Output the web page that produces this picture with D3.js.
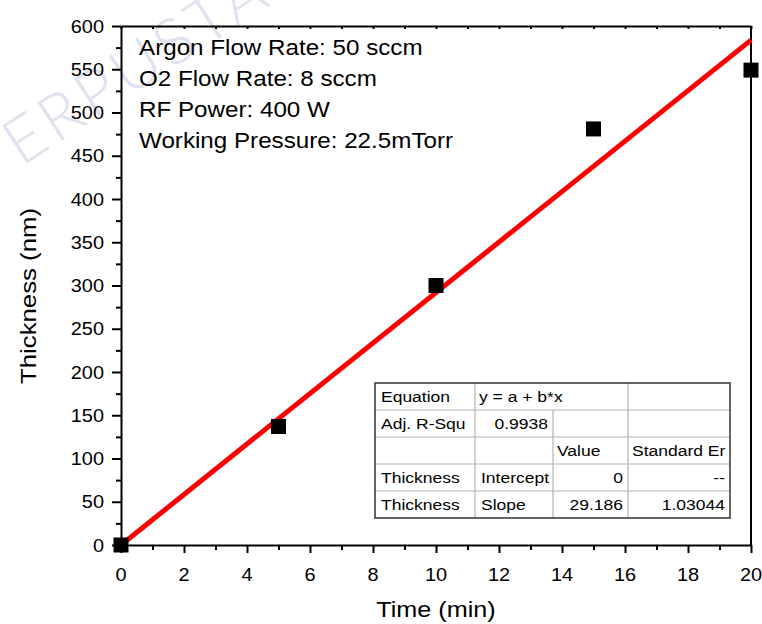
<!DOCTYPE html>
<html>
<head>
<meta charset="utf-8">
<script src="https://cdn.jsdelivr.net/npm/d3@7"></script>
<style>
  body { margin: 0; background: #fff; }
  svg text { font-family: "Liberation Sans", Arial, sans-serif; fill: #000; }
</style>
</head>
<body>
<svg id="chart" width="762" height="624"></svg>
<script>
// deposition time (min) vs film thickness (nm)
var timeMin = [0, 5, 10, 15, 20];
var thickness = [0, 137, 300, 481, 549];

// linear fit, y = a + b*x
var fitX = [0, 20];
var fitY = [0, 583.7];

var xTicks = [0, 2, 4, 6, 8, 10, 12, 14, 16, 18, 20];
var xMinor = [1, 3, 5, 7, 9, 11, 13, 15, 17, 19];
var yTicks = [0, 50, 100, 150, 200, 250, 300, 350, 400, 450, 500, 550, 600];
var yMinor = [25, 75, 125, 175, 225, 275, 325, 375, 425, 475, 525, 575];

var notes = ["Argon Flow Rate: 50 sccm", "O2 Flow Rate: 8 sccm", "RF Power: 400 W", "Working Pressure: 22.5mTorr"];

var tableRow1 = ["Equation", "y = a + b*x", ""];
var tableRow2 = ["Adj. R-Squ", "0.9938", "", ""];
var tableRow3 = ["", "", "Value", "Standard Er"];
var tableRow4 = ["Thickness", "Intercept", "0", "--"];
var tableRow5 = ["Thickness", "Slope", "29.186", "1.03044"];

(function () {
  var svg = d3.select("#chart");
  var mLeft = 121, mRight = 751, mTop = 26, mBottom = 545;

  var x = d3.scaleLinear().domain([0, 20]).range([mLeft, mRight]);
  var y = d3.scaleLinear().domain([0, 600]).range([mBottom, mTop]);

  // text a bit wider than the font, like the source image
  function label(g, px, py, txt, size, sx, anchor) {
    return g.append("text")
      .attr("transform", "translate(" + px + "," + py + ") scale(" + sx + ",1)")
      .attr("text-anchor", anchor || "start")
      .style("font-size", size + "px")
      .text(txt);
  }

  // watermark
  svg.append("text")
    .attr("transform", "translate(-14,190) rotate(-33)")
    .style("font-family", "Lato, 'DejaVu Sans', sans-serif")
    .style("font-weight", 300)
    .style("font-size", "64px")
    .style("letter-spacing", "5px")
    .style("fill", "#dfe2ef")
    .text("PERPUSTAKAAN");

  // axes
  var gx = svg.append("g").attr("transform", "translate(0," + mBottom + ")");
  gx.call(d3.axisBottom(x).tickValues(xTicks).tickSize(8).tickSizeOuter(0).tickFormat(""));
  gx.append("g").call(d3.axisBottom(x).tickValues(xMinor).tickSize(5).tickFormat(""))
    .select(".domain").remove();

  var gy = svg.append("g").attr("transform", "translate(" + mLeft + ",0)");
  gy.call(d3.axisLeft(y).tickValues(yTicks).tickSize(9).tickSizeOuter(0).tickFormat(""));
  gy.append("g").call(d3.axisLeft(y).tickValues(yMinor).tickSize(5).tickFormat(""))
    .select(".domain").remove();

  var gt = svg.append("g").attr("transform", "translate(0," + mTop + ")");
  gt.call(d3.axisBottom(x).tickValues(xTicks.concat(xMinor)).tickSize(3).tickSizeOuter(0).tickFormat(""));

  svg.append("line").attr("x1", mRight).attr("x2", mRight).attr("y1", mTop).attr("y2", mBottom);

  svg.selectAll(".domain, .tick line, line")
    .attr("stroke", "#000").attr("stroke-width", 2);

  // tick labels
  var xl = svg.append("g");
  xTicks.forEach(function (d) { label(xl, x(d), 581, d, 17.8, 1.12, "middle"); });
  var yl = svg.append("g");
  yTicks.forEach(function (d) { label(yl, 104, y(d) + 6.5, d, 17.8, 1.12, "end"); });

  // axis titles
  label(svg, 436, 617, "Time (min)", 22.5, 1.12, "middle");
  svg.append("text")
    .attr("transform", "translate(36,296) rotate(-90) scale(1.12,1)")
    .attr("text-anchor", "middle")
    .style("font-size", "23px")
    .text("Thickness (nm)");

  // notes
  var gn = svg.append("g");
  notes.forEach(function (t, i) { label(gn, 139, 55 + i * 31, t, 22, 1.1, "start"); });

  // fit line
  var fitPts = fitX.map(function (v, i) { return [v, fitY[i]]; });
  svg.append("path")
    .datum(fitPts)
    .attr("fill", "none")
    .attr("stroke", "#ff0000")
    .attr("stroke-width", 5)
    .attr("d", d3.line().x(function (d) { return x(d[0]); }).y(function (d) { return y(d[1]); }));

  // data points
  var sq = 15;
  svg.selectAll(".pt").data(timeMin).enter().append("rect")
    .attr("class", "pt")
    .attr("x", function (d) { return x(d) - sq / 2; })
    .attr("y", function (d, i) { return y(thickness[i]) - sq / 2; })
    .attr("width", sq).attr("height", sq)
    .attr("fill", "#000");

  // fit table
  var cols = [375, 475, 553, 628, 730];
  var rowH = 27, tTop = 383;
  var tg = svg.append("g");
  var rows = [tableRow1, tableRow2, tableRow3, tableRow4, tableRow5];

  rows.forEach(function (r, i) {
    var ry = tTop + i * rowH;
    if (i > 0) {
      tg.append("line").attr("x1", cols[0]).attr("x2", cols[4]).attr("y1", ry).attr("y2", ry)
        .attr("stroke", "#b4b4b4").attr("stroke-width", 1.2);
    }
    var seps = i === 0 ? [cols[1], cols[3]] : [cols[1], cols[2], cols[3]];
    seps.forEach(function (cx) {
      tg.append("line").attr("x1", cx).attr("x2", cx).attr("y1", ry).attr("y2", ry + rowH)
        .attr("stroke", "#b4b4b4").attr("stroke-width", 1.2);
    });
  });
  tg.append("rect").attr("x", cols[0]).attr("y", tTop)
    .attr("width", cols[4] - cols[0]).attr("height", rowH * 5)
    .attr("fill", "none").attr("stroke", "#333").attr("stroke-width", 1.5);

  var fs = 15.5, tsx = 1.13;
  rows.forEach(function (r, i) {
    var by = tTop + i * rowH + 19;
    if (i === 0) {
      label(tg, cols[0] + 6, by, r[0], fs, tsx, "start");
      label(tg, cols[1] + 4, by, r[1], fs, tsx, "start");
      return;
    }
    r.forEach(function (t, j) {
      if (!t) return;
      var numeric = !isNaN(+t) || t === "--";
      if (numeric && j > 0) label(tg, cols[j + 1] - 5, by, t, fs, tsx, "end");
      else label(tg, cols[j] + (j >= 2 ? 4 : 6), by, t, fs, tsx, "start");
    });
  });
})();
</script>
</body>
</html>
